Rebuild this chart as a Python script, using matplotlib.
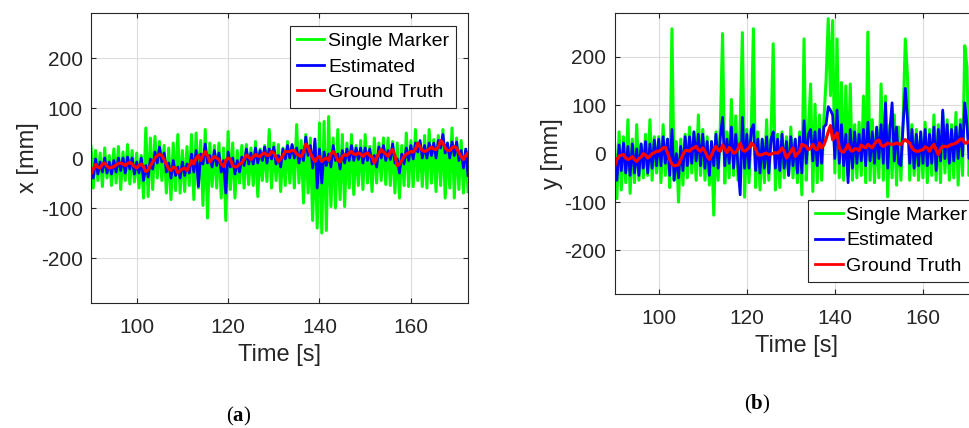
import numpy as np
import matplotlib.pyplot as plt

plt.rcParams["font.family"] = ["Liberation Sans", "DejaVu Sans"]
plt.rcParams["axes.unicode_minus"] = False
plt.rcParams["mathtext.fontset"] = "custom"
plt.rcParams["mathtext.rm"] = "Liberation Serif"
plt.rcParams["mathtext.bf"] = "Liberation Serif:bold"

# tracking run, sampled every 0.5 s between 90 s and 172.5 s
TIME = np.arange(90.0, 172.75, 0.5)

# x position [mm]
X_SINGLE = [
    23, -60, 15, -45, 10, -57, 20, -40, 5, -55,
    18, -50, 23, -63, 12, -45, 27, -52, 15, -48,
    10, -60, 5, -80, 60, -77, 40, -63, 43, -40,
    33, -45, 25, -70, 20, -83, 30, -65, 47, -70,
    15, -67, 23, -55, 47, -83, 50, -60, 35, -95,
    57, -120, 30, -57, 25, -60, 30, -80, 20, -125,
    53, -63, 30, -80, 15, -50, 25, -60, 27, -53,
    20, -55, 33, -77, 18, -45, 25, -47, 57, -60,
    30, -45, 27, -67, 20, -55, 33, -50, 25, -60,
    67, -50, 35, -90, 47, -70, 40, -125, 30, -140,
    70, -150, 73, -145, 83, -97, 40, -100, 57, -83,
    47, -97, 30, -60, 47, -73, 25, -55, 35, -63,
    47, -50, 23, -67, 40, -50, 30, -45, 40, -53,
    40, -55, 33, -70, 30, -80, 25, -55, 50, -57,
    35, -57, 57, -45, 30, -57, 45, -60, 57, -50,
    37, -67, 45, -55, 57, -80, 30, -60, 60, -80,
    40, -63, 35, -70, 17, -67,
]
X_ESTIMATED = [
    -20, -40, -2, -32, -8, -28, 0, -30, -8, -32,
    -5, -28, 0, -25, 0, -30, 2, -22, 0, -32,
    -8, -30, 0, -45, -15, -38, -2, -22, 12, -10,
    22, -8, 10, -28, -10, -40, -5, -35, -18, -40,
    -8, -35, -12, -30, 8, -28, 15, -57, 8, -12,
    28, -10, 5, -18, 15, -15, 10, -28, -5, -70,
    12, -18, 0, -32, -5, -28, 2, -15, 18, -12,
    10, -12, 20, -10, 15, -5, 22, -10, 18, -2,
    22, -12, 5, -18, 18, -2, 25, 0, 27, 0,
    20, -10, 15, -5, 42, 5, 25, -20, 38, -60,
    18, -50, 12, -15, 8, -18, 25, -5, 8, -22,
    15, -10, 18, -5, 25, -5, 20, -3, 20, -10,
    20, -5, 18, -12, 5, -18, 22, 0, 25, -5,
    15, -3, 28, -10, -2, -30, 8, -12, 20, -5,
    25, -2, 30, 12, 35, 0, 25, 0, 30, 5,
    30, 0, 35, 20, 47, 10, 30, 0, 32, 5,
    32, -5, 15, -20, 18, -35,
]
X_TRUTH = [
    -32, -22, -13, -18, -20, -12, -10, -16, -20, -19,
    -17, -14, -11, -10, -12, -15, -11, -9, -12, -17,
    -20, -15, -12, -18, -27, -24, -15, -8, 0, 5,
    8, 5, -3, -13, -22, -25, -18, -20, -30, -25,
    -22, -20, -25, -15, -5, -12, 0, 5, -5, 5,
    13, 5, -8, -2, 3, 0, -3, -12, -17, -5,
    0, -3, -15, -18, -17, -12, -10, -2, 6, 2,
    -3, 3, 7, 4, 3, 8, 10, 5, 6, 13,
    10, 2, -7, -2, 5, 13, 13, 13, 15, 15,
    8, 5, 3, 12, 28, 22, 10, 0, -7, 0,
    3, -7, -2, 0, -5, 8, 13, 7, -5, -8,
    3, 7, 5, 10, 13, 8, 7, 10, 8, 3,
    8, 10, 5, 2, -10, 0, 10, 17, 12, 8,
    3, 12, 17, 5, -15, -12, -5, 3, 8, 10,
    13, 12, 18, 30, 22, 15, 13, 15, 18, 22,
    18, 17, 22, 35, 30, 20, 15, 15, 20, 23,
    20, 10, 3, -3, 5, 10,
]

# y position [mm]
Y_SINGLE = [
    20, -93, 45, -75, 35, -60, 70, -82, 30, -60,
    60, -55, 20, -50, 40, -45, 70, -55, 35, -40,
    35, -60, 60, -45, 30, -70, 258, -55, 25, -100,
    30, -65, 40, -50, 55, -40, 45, -55, 80, -45,
    50, -55, 35, -65, 25, -127, 45, -55, 60, 248,
    -61, 45, -50, 112, -45, 78, -55, 60, 250, -90,
    50, -60, 40, 258, -70, 45, -75, 30, -60, 70,
    -55, 35, 227, -75, 40, -70, 45, -50, 35, -45,
    55, -50, 30, -60, 45, -85, 237, -55, 50, 144,
    -78, 102, -60, 80, -55, 70, 150, 279, 120, 275,
    -40, 237, -50, 147, -55, 140, -45, 144, -55, 60,
    -50, 65, -45, 119, -60, 251, -55, 70, -60, 50,
    -50, 144, -55, 119, -89, 60, -50, 80, -65, 55,
    -55, 70, 237, 160, -55, 60, -45, 50, -55, 45,
    -50, 65, -60, 50, -45, 80, -55, 60, -60, 85,
    -40, 70, -55, 60, -50, 85, -65, 70, -45, 223,
    179, -45, 80, -55, 60, -40,
]
Y_ESTIMATED = [
    -5, -55, 18, -35, 22, -40, 15, -45, 20, -40,
    10, -45, 20, -30, 25, -40, 20, -30, 28, -25,
    30, -25, 35, -20, 30, -45, 50, -55, 0, -50,
    15, -35, 35, -25, 35, -20, 45, -15, 40, -25,
    40, -30, 25, -45, 25, -25, 40, -30, 35, 75,
    -25, 30, -20, 55, -30, 40, -25, -85, 75, -30,
    40, -30, 50, 60, -35, 30, -40, 30, -30, 35,
    -40, 30, 45, -30, 30, -35, 40, -30, 25, -45,
    35, -25, 30, -40, 35, -40, 68, -20, 40, 50,
    -15, 45, -25, 50, -20, 55, 60, 97, 90, 80,
    -10, 90, -20, 60, -25, 40, -60, 50, -30, 45,
    -20, 40, -15, 50, -25, 65, -15, 45, -20, 55,
    -10, 60, -20, 105, -30, 50, 105, -15, 55, -20,
    -25, 60, 135, 70, -20, 50, -30, 40, -25, 45,
    -20, 50, -25, 40, -20, 55, -35, 50, -15, 90,
    -10, 60, -20, 50, -15, 55, -10, 60, -5, 105,
    60, -10, 50, -15, 45, -5,
]
Y_TRUTH = [
    -26, -12, -5, -3, -2, -9, -12, -10, -6, -12,
    -16, -10, -7, 0, -3, -9, -5, 0, 2, 5,
    5, 8, 12, 13, 2, -12, -22, -25, -24, -23,
    -12, -2, 6, 7, 5, 10, 12, 15, 8, 5,
    12, 5, -5, -12, -3, 8, 15, 8, 5, 18,
    10, 2, 13, 8, 1, 3, 10, 22, 8, 5,
    8, 12, 22, 18, 10, -2, -3, -2, 0, 1,
    -2, -1, 1, 2, 1, 5, 12, 5, -9, -3,
    5, 12, -6, 0, 5, 19, 17, 15, 8, 12,
    19, 10, 8, 22, 12, 18, 30, 45, 58, 29,
    35, 43, 12, 5, 3, 10, 19, 8, 5, 10,
    10, 6, 18, 14, 12, 19, 15, 12, 20, 26,
    28, 18, 15, 18, 22, 20, 19, 20, 22, 20,
    19, 25, 29, 25, 22, 12, 7, 5, 5, 7,
    8, 14, 12, 5, 14, 19, 8, -2, 10, 15,
    15, 14, 17, 19, 20, 22, 25, 30, 30, 22,
    22, 26, 25, 22, 20, 22,
]

SERIES_LABELS = ["Single Marker", "Estimated", "Ground Truth"]
SERIES_COLORS = ["#00ff00", "#0000ff", "#ff0000"]
SERIES_WIDTHS = [2.2, 2.0, 2.3]
X_TICKS = [100, 120, 140, 160]
Y_TICKS = [-200, -100, 0, 100, 200]

INK = "#262626"


def plot_panel(ax, series, ylabel, legend_loc, legend_anchor):
    for values, label, color, lw in zip(series, SERIES_LABELS, SERIES_COLORS, SERIES_WIDTHS):
        ax.plot(TIME, values, color=color, linewidth=lw, label=label)

    ax.set_xlim(90, 172.5)
    ax.set_ylim(-290, 290)
    ax.set_xticks(X_TICKS)
    ax.set_yticks(Y_TICKS)
    ax.grid(True, color="#dcdcdc", linewidth=0.8)
    ax.set_axisbelow(True)
    ax.tick_params(direction="in", length=3.5, width=0.8, top=True, right=True,
                   labelsize=15, colors=INK)
    ax.tick_params(axis="x", pad=11)
    ax.tick_params(axis="y", pad=6)
    for spine in ax.spines.values():
        spine.set_color(INK)
        spine.set_linewidth(0.8)
    ax.set_xlabel("Time [s]", fontsize=17, color=INK, labelpad=5)
    ax.set_ylabel(ylabel, fontsize=17, color=INK, labelpad=1)

    leg = ax.legend(loc=legend_loc, bbox_to_anchor=legend_anchor, fontsize=14,
                    fancybox=False, framealpha=1, edgecolor=INK, borderaxespad=0,
                    borderpad=0.35, labelspacing=0.4, handlelength=1.4, handletextpad=0.2)
    leg.get_frame().set_linewidth(0.8)
    for line in leg.get_lines():
        line.set_linewidth(2.0)
    for text in leg.get_texts():
        text.set_color("black")


def main():
    fig = plt.figure(figsize=(9.7, 4.28), dpi=100)
    ax_x = fig.add_axes([0.0938, 0.292, 0.3887, 0.6776])
    ax_y = fig.add_axes([0.6337, 0.313, 0.3745, 0.656])

    plot_panel(ax_x, [X_SINGLE, X_ESTIMATED, X_TRUTH], "x [mm]", "upper right", (0.968, 0.956))
    plot_panel(ax_y, [Y_SINGLE, Y_ESTIMATED, Y_TRUTH], "y [mm]", "lower right", (0.99, 0.044))

    fig.text(0.246, 0.026, r"$\mathrm{(}\mathbf{a}\mathrm{)}$", ha="center", va="center", fontsize=15)
    fig.text(0.781, 0.054, r"$\mathrm{(}\mathbf{b}\mathrm{)}$", ha="center", va="center", fontsize=15)

    fig.savefig("out.png", dpi=100)


if __name__ == "__main__":
    main()
